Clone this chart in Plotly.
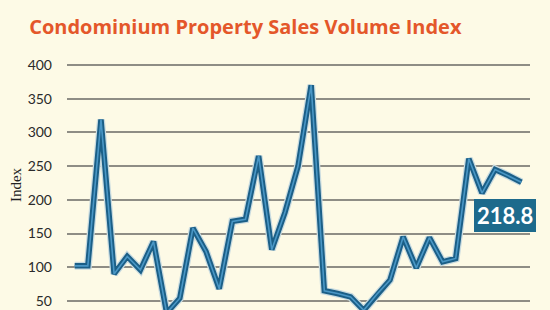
import plotly.graph_objects as go

title_text = "Condominium Property Sales Volume Index"
y_title = "Index"
latest_label = "218.8"
tick_vals = [50, 100, 150, 200, 250, 300, 350, 400]
tick_text = ["50", "100", "150", "200", "250", "300", "350", "400"]
values = [102, 102, 319, 90, 116, 96, 138, 32, 54, 158, 123, 68, 168, 171, 265,
          126, 181, 250, 370, 65, 61, 56, 36, 60, 81, 145, 99, 144, 108, 113,
          261, 210, 245, 236, 226]
periods = list(range(len(values)))

BG = "#fdfae6"
fig = go.Figure()
fig.add_trace(go.Scatter(x=periods, y=values, mode="lines",
                         line=dict(color="#c9dbe0", width=8), hoverinfo="skip"))
fig.add_trace(go.Scatter(x=periods, y=values, mode="lines",
                         line=dict(color="#1b5f87", width=5.5)))
fig.add_trace(go.Scatter(x=periods, y=values, mode="lines",
                         line=dict(color="#4a97c6", width=1.6)))

fig.add_annotation(x=32.75, y=176, xref="x", yref="y",
                   text="<b>" + latest_label + "</b>", showarrow=False,
                   font=dict(family="Lato", size=22, color="white"),
                   bgcolor="#1d6a8c", bordercolor="#1d6a8c", borderpad=1,
                   borderwidth=2)

fig.update_layout(
    width=550, height=310,
    paper_bgcolor=BG, plot_bgcolor=BG,
    margin=dict(l=67, r=20, t=60, b=0),
    showlegend=False,
    title=dict(text="<b>" + title_text + "</b>", x=0.053, xanchor="left",
               y=0.912, yanchor="middle",
               font=dict(family="Open Sans", size=20, color="#e4572a")),
)
fig.update_xaxes(range=[-0.586, 34.655], showgrid=False, zeroline=False,
                 showticklabels=False, showline=False)
fig.update_yaxes(range=[36.5, 407.4], tickvals=tick_vals, ticktext=tick_text,
                 showgrid=True, gridcolor="#8e8d85", gridwidth=1.5,
                 zeroline=False, showline=False, ticklabelstandoff=14,
                 tickfont=dict(family="Lato", size=14, color="#2a2a2a"),
                 title=dict(text=y_title, standoff=2,
                            font=dict(family="Liberation Serif", size=15, color="#222")))

fig.write_html("out.html")
